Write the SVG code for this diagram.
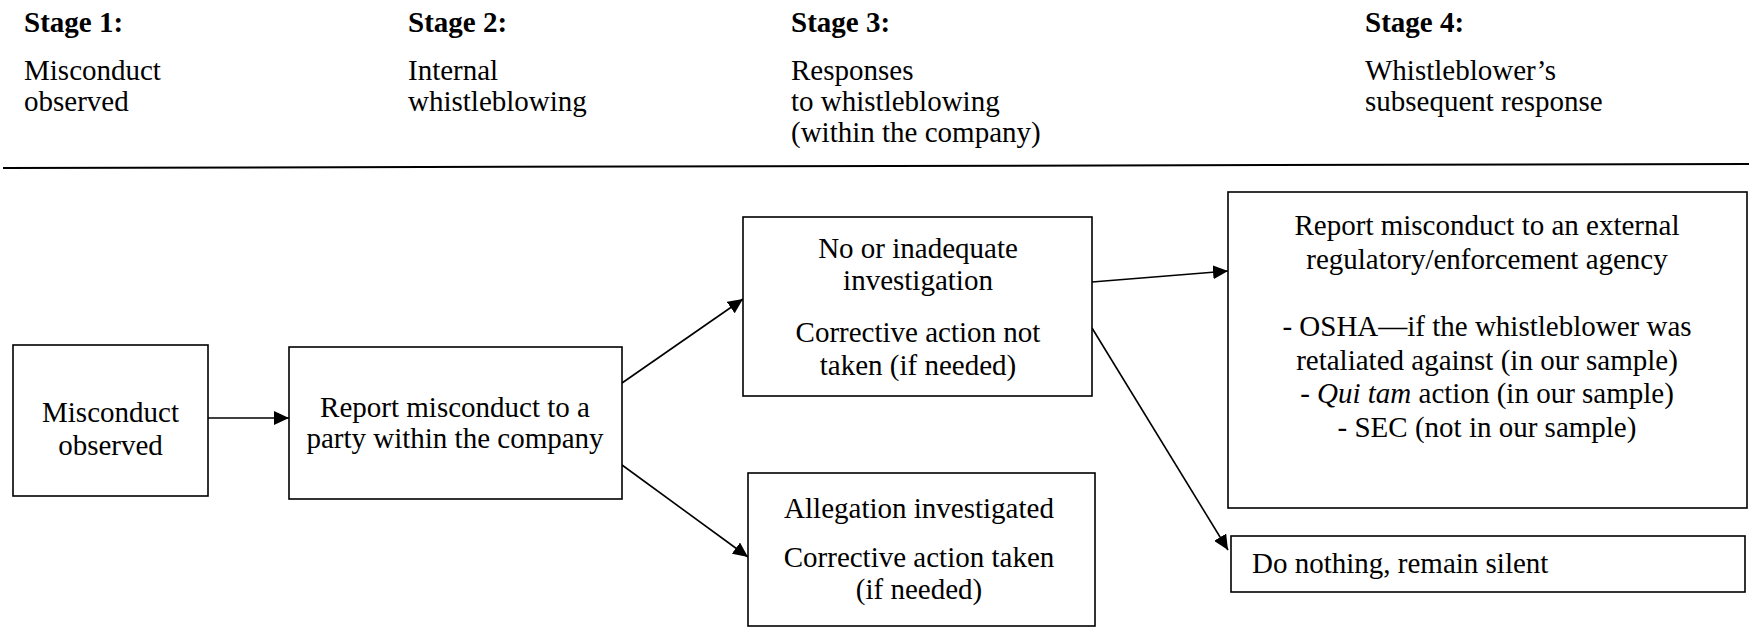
<svg xmlns="http://www.w3.org/2000/svg" width="1749" height="627" viewBox="0 0 1749 627">
<style>
text{font-family:"Liberation Serif","Times New Roman",serif;font-size:29px;fill:#000}
.b{font-weight:bold}
.c{text-anchor:middle}
.box{fill:#fff;stroke:#000;stroke-width:1.6}
.edge{stroke:#000;stroke-width:1.6;fill:none}
</style>
<defs>
<marker id="ah" markerUnits="userSpaceOnUse" markerWidth="15" markerHeight="14" refX="15" refY="7" orient="auto">
<path d="M0,0 L15,7 L0,14 z" fill="#000"/>
</marker>
</defs>
<g id="header">
<text class="b" x="24" y="32">Stage 1:</text>
<text x="24" y="80">Misconduct</text>
<text x="24" y="111">observed</text>
<text class="b" x="408" y="32">Stage 2:</text>
<text x="408" y="80">Internal</text>
<text x="408" y="111">whistleblowing</text>
<text class="b" x="791" y="32">Stage 3:</text>
<text x="791" y="80">Responses</text>
<text x="791" y="111">to whistleblowing</text>
<text x="791" y="142">(within the company)</text>
<text class="b" x="1365" y="32">Stage 4:</text>
<text x="1365" y="80">Whistleblower’s</text>
<text x="1365" y="111">subsequent response</text>
<line x1="3" y1="168" x2="1749" y2="164" stroke="#000" stroke-width="2"/>
</g>
<g id="connectors">
<line class="edge" x1="208" y1="418" x2="289" y2="418" marker-end="url(#ah)"/>
<line class="edge" x1="622" y1="383" x2="743" y2="299" marker-end="url(#ah)"/>
<line class="edge" x1="622" y1="465" x2="748" y2="557" marker-end="url(#ah)"/>
<line class="edge" x1="1092" y1="282" x2="1228" y2="271" marker-end="url(#ah)"/>
<line class="edge" x1="1092" y1="328" x2="1228" y2="550" marker-end="url(#ah)"/>
</g>
<g id="n1">
<rect class="box" x="13" y="345" width="195" height="151"/>
<text class="c" x="110.5" y="422">Misconduct</text>
<text class="c" x="110.5" y="455">observed</text>
</g>
<g id="n2">
<rect class="box" x="289" y="347" width="333" height="152"/>
<text class="c" x="455" y="417">Report misconduct to a</text>
<text class="c" x="455" y="448">party within the company</text>
</g>
<g id="n3">
<rect class="box" x="743" y="217" width="349" height="179"/>
<text class="c" x="918" y="258">No or inadequate</text>
<text class="c" x="918" y="290">investigation</text>
<text class="c" x="918" y="342">Corrective action not</text>
<text class="c" x="918" y="375">taken (if needed)</text>
</g>
<g id="n4">
<rect class="box" x="748" y="473" width="347" height="153"/>
<text class="c" x="919" y="518">Allegation investigated</text>
<text class="c" x="919" y="567">Corrective action taken</text>
<text class="c" x="919" y="599">(if needed)</text>
</g>
<g id="n5">
<rect class="box" x="1228" y="192" width="519" height="316"/>
<text class="c" x="1487" y="235">Report misconduct to an external</text>
<text class="c" x="1487" y="268.5">regulatory/enforcement agency</text>
<text class="c" x="1487" y="336">- OSHA—if the whistleblower was</text>
<text class="c" x="1487" y="369.5">retaliated against (in our sample)</text>
<text class="c" x="1487" y="403">- <tspan font-style="italic">Qui tam</tspan> action (in our sample)</text>
<text class="c" x="1487" y="436.5">- SEC (not in our sample)</text>
</g>
<g id="n6">
<rect class="box" x="1231" y="536" width="514" height="56"/>
<text x="1252" y="573">Do nothing, remain silent</text>
</g>
</svg>
